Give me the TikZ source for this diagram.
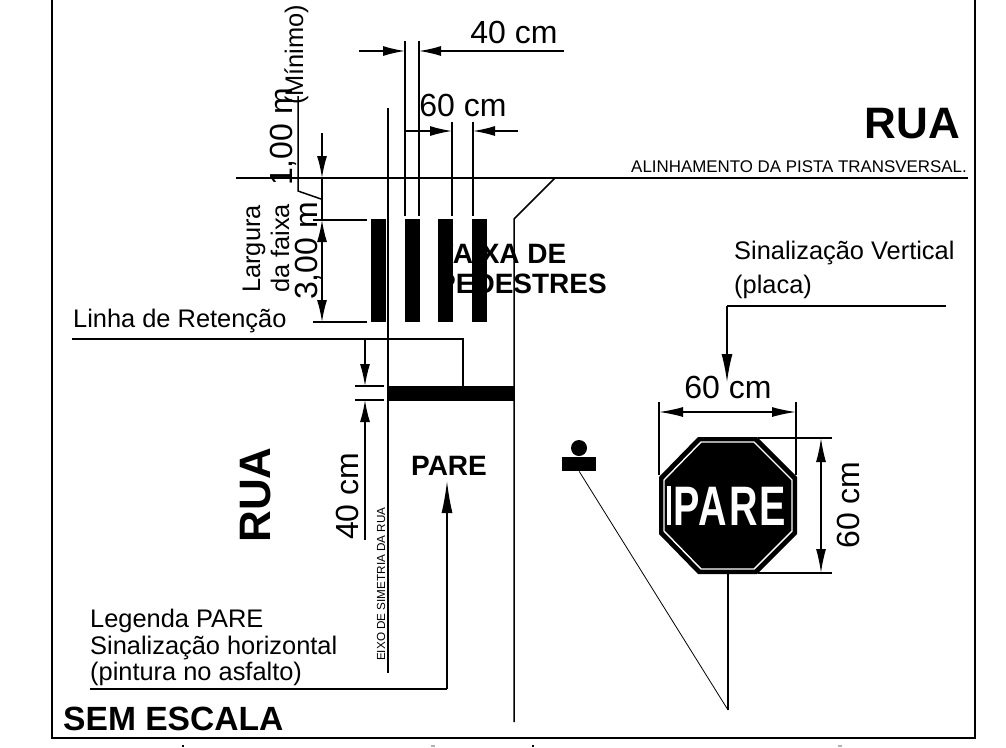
\documentclass[tikz,border=0pt]{standalone}
\usepackage{fontspec}
\setmainfont{Liberation Sans}
\usetikzlibrary{arrows.meta}
\newcommand{\fsz}[1]{\fontsize{#1}{#1}\selectfont}
\tikzset{
  x=1pt,y=-1pt,
  ln/.style={draw=black,line width=1.5pt},
  thin ln/.style={draw=black,line width=0.8pt},
  heavy/.style={draw=black,line width=2.2pt},
  tip/.style={-{Latex[length=22pt,width=10pt]}},
  bar/.style={fill=black,draw=none},
  lab/.style={inner sep=0pt,anchor=base west,font=\fsz{25.4}},
  dim/.style={inner sep=0pt,font=\fsz{32}},
  head/.style={inner sep=0pt,font=\bfseries\fsz{28}},
}
\begin{document}
\begin{tikzpicture}
\useasboundingbox (0,0) rectangle (1006,747);
% frame
\coordinate (fa) at (52,0); \coordinate (fb) at (52,738); \coordinate (fc) at (975,738); \coordinate (fd) at (975,0);
\draw[line width=1.8pt] (fa) -- (fb) -- (fc) -- (fd);
% road lines
\coordinate (h1) at (236,178); \coordinate (h2) at (968,178);
\draw[line width=1.9pt] (h1) -- (h2);
\coordinate (r1) at (555,178); \coordinate (r2) at (514,219); \coordinate (r3) at (514,722);
\draw[ln] (r1) -- (r2) -- (r3);
\coordinate (c1) at (388,108); \coordinate (c2) at (388,673);
\draw[ln] (c1) -- (c2);
% crosswalk bars
\foreach \x/\n in {371/a,405/b,438/c,472/d}{
  \node[bar,minimum width=15pt,minimum height=103pt,inner sep=0pt,anchor=north west] (bar\n) at (\x,219) {};
}
% stop bar
\node[bar,minimum width=127pt,minimum height=15pt,inner sep=0pt,anchor=north west] (stopbar) at (388,386) {};
% 40 cm top
\foreach \x in {405,419}{ \draw[ln] (\x,41) -- (\x,216); }
\coordinate (d1a) at (359,51); \coordinate (d1b) at (405,51); \coordinate (d1c) at (564,51); \coordinate (d1d) at (419,51);
\draw[ln,tip] (d1a) -- (d1b);
\draw[ln,tip] (d1c) -- (d1d);
\node[dim,anchor=base] (t40a) at (514,43) {40 cm};
% 60 cm top
\foreach \x in {452,473}{ \draw[ln] (\x,122) -- (\x,216); }
\coordinate (d2a) at (406,131); \coordinate (d2b) at (452,131); \coordinate (d2c) at (518,131); \coordinate (d2d) at (473,131);
\draw[ln,tip] (d2a) -- (d2b);
\draw[ln,tip] (d2c) -- (d2d);
\node[dim,anchor=base] (t60a) at (463,116) {60 cm};
% left dims
\coordinate (l1) at (322,133); \coordinate (l2) at (322,178); \coordinate (l3) at (322,220); \coordinate (l4) at (322,322);
\draw[ln,tip] (l1) -- (l2);
\draw[ln] (l2) -- (l3);
\draw[ln,{Latex[length=22pt,width=10pt]}-{Latex[length=22pt,width=10pt]}] (l3) -- (l4);
\draw[ln] (313,220) -- (367,220);
\draw[ln] (313,322) -- (367,322);
\coordinate (m1) at (298,96); \coordinate (m2) at (298,191); \coordinate (m3) at (321,199);
\draw[ln] (m1) -- (m2) -- (m3);
\node[lab,rotate=90] (tmin) at (303,105) {(Mínimo)};
\node[dim,rotate=90,anchor=base west] (t1m) at (292,186) {1,00 m};
\node[dim,rotate=90,anchor=base west] (t3m) at (317,300) {3,00 m};
\node[lab,rotate=90] (tlarg) at (260,293) {Largura};
\node[lab,rotate=90] (tfaixa) at (289,293) {da faixa};
% retention line
\coordinate (n1) at (72,339); \coordinate (n2) at (463,339); \coordinate (n3) at (463,386);
\draw[ln] (n1) -- (n2) -- (n3);
\node[lab] (tlin) at (73,327) {Linha de Retenção};
% 40cm vertical
\coordinate (v1) at (365,339); \coordinate (v2) at (365,386); \coordinate (v3) at (365,540); \coordinate (v4) at (365,400);
\draw[ln,tip] (v1) -- (v2);
\draw[ln,tip] (v3) -- (v4);
\draw[ln] (355,386) -- (384,386);
\draw[ln] (355,400) -- (384,400);
\node[dim,rotate=90,anchor=base west] (t40b) at (358,540) {40 cm};
\node[inner sep=0pt,rotate=90,anchor=base west,font=\fsz{11.7}] (teixo) at (385,661) {EIXO DE SIMETRIA DA RUA};
% PARE legend
\node[head,anchor=base] (tpare) at (449,475) {PARE};
\coordinate (p1) at (90,689); \coordinate (p2) at (447,689); \coordinate (p3) at (447,481);
\draw[heavy] (p1) -- (p2);
\draw[ln,-{Latex[length=32pt,width=11pt]}] (p2) -- (p3);
\node[lab] (tleg1) at (90,627) {Legenda PARE};
\node[lab] (tleg2) at (90,654) {Sinalização horizontal};
\node[lab] (tleg3) at (90,680) {(pintura no asfalto)};
\node[inner sep=0pt,anchor=base west,font=\bfseries\fsz{33.6}] (tsem) at (63,730) {SEM ESCALA};
% big labels
\node[inner sep=0pt,anchor=base east,font=\bfseries\fsz{44}] (trua) at (960,138) {RUA};
\node[inner sep=0pt,rotate=90,anchor=base,font=\bfseries\fsz{44}] (trub) at (270,495) {RUA};
\node[inner sep=0pt,anchor=base east,font=\fsz{16.9}] (talin) at (967,172) {ALINHAMENTO DA PISTA TRANSVERSAL.};
\node[inner sep=0pt,anchor=base west,font=\bfseries\fsz{28}] (tfx) at (437,263) {FAIXA DE};
\node[inner sep=0pt,anchor=base west,font=\bfseries\fsz{28}] (tpd) at (437,293) {PEDESTRES};
% vertical sign labels
\node[lab] (tsv1) at (734,259) {Sinalização Vertical};
\node[lab] (tsv2) at (734,293) {(placa)};
\coordinate (s1) at (946,306); \coordinate (s2) at (727,306); \coordinate (s3) at (727,382);
\draw[ln] (s1) -- (s2);
\draw[ln,{Latex[length=28pt,width=11pt]}-] (s3) -- (s2);
% person
\node[bar,circle,minimum size=16pt,inner sep=0pt] (head1) at (579,448) {};
\node[bar,minimum width=34pt,minimum height=14pt,inner sep=0pt,anchor=north west] (body1) at (562,457) {};
\coordinate (q) at (728,710);
\draw[thin ln] (body1.south) -- (q);
% sign
\coordinate (po) at (728,574);
\draw[line width=2.4pt] (po) -- (q);
\fill[black] (698,437) -- (757,437) -- (797,477) -- (797,534) -- (757,574) -- (698,574) -- (659,534) -- (659,477) -- cycle;
\draw[white,line width=1.4pt] (701,442) -- (754,442) -- (792,480) -- (792,531) -- (754,569) -- (701,569) -- (664,531) -- (664,480) -- cycle;
\fill[white] (667,486) rectangle (671,525);
\node[inner sep=0pt,anchor=base west,text=white] (tsign) at (673,525) {\scalebox{0.76}[1.07]{\bfseries\fsz{52}\addfontfeature{LetterSpace=5}PARE}};
% sign dims
\coordinate (w1) at (659,412); \coordinate (w2) at (796,412);
\draw[ln,{Latex[length=24pt,width=10pt]}-{Latex[length=24pt,width=10pt]}] (w1) -- (w2);
\draw[ln] (659,402) -- (659,475);
\draw[ln] (796,402) -- (796,475);
\node[dim,anchor=base] (t60b) at (728,398) {60 cm};
\coordinate (h3) at (821,438); \coordinate (h4) at (821,573);
\draw[ln,{Latex[length=24pt,width=10pt]}-{Latex[length=24pt,width=10pt]}] (h3) -- (h4);
\draw[ln] (758,438) -- (832,438);
\draw[ln] (758,573) -- (832,573);
\node[dim,rotate=90,anchor=base] (t60c) at (859,505) {60 cm};
% cut-off marks at the lower edge
\fill[black] (182,745) rectangle (184,747);
\fill[black] (532,745) rectangle (534,747);
\fill[gray!60] (431,745) rectangle (435,747);
\fill[gray!60] (838,745) rectangle (842,747);
\end{tikzpicture}
\end{document}
